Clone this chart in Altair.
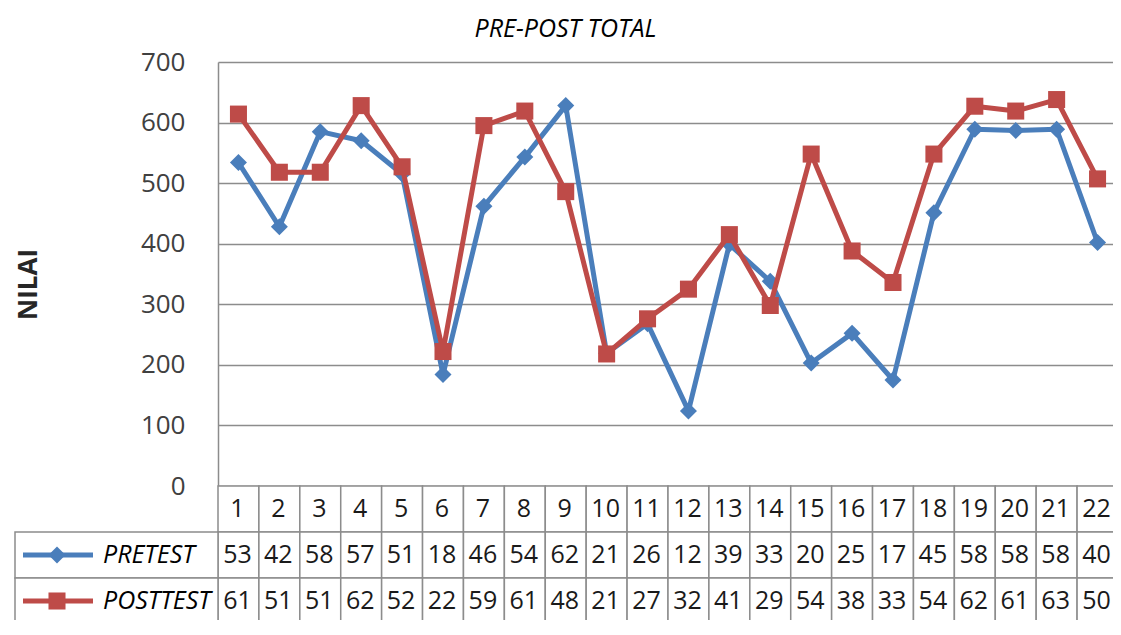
import altair as alt
import pandas as pd

# ---------------- data ----------------
categories = list(range(1, 23))
pretest = [534, 428, 585, 570, 515, 184, 462, 543, 628, 219, 268, 124, 399, 338,
           203, 252, 175, 451, 589, 587, 589, 402]
posttest = [614, 518, 518, 628, 527, 222, 595, 619, 486, 218, 276, 325, 415, 298,
            548, 388, 336, 548, 627, 619, 638, 507]
series_names = ["PRETEST", "POSTTEST"]
series_colors = ["#4A7EBB", "#BE4B48"]
series_shapes = ["diamond", "square"]
y_ticks = [0, 100, 200, 300, 400, 500, 600, 700]
header_row = "NO"
# the data-table cells only show the first two characters of each value
pretest_labels = [str(v)[:2] for v in pretest]
posttest_labels = [str(v)[:2] for v in posttest]
header_labels = [str(c) for c in categories]

rows = [header_row] + series_names

long_df = pd.DataFrame({
    "cat": categories * 2,
    "series": [series_names[0]] * len(categories) + [series_names[1]] * len(categories),
    "value": pretest + posttest,
})
table_df = pd.DataFrame({
    "cat": categories * 3,
    "row": [header_row] * len(categories) + [series_names[0]] * len(categories)
           + [series_names[1]] * len(categories),
    "text": header_labels + pretest_labels + posttest_labels,
})
legend_df = pd.DataFrame({"row": series_names})

# ---------------- styling ----------------
FONT = "Open Sans"
GRID = "#8c8c8c"
PLOT_W = 895
PLOT_H = 558
ZERO_PX = 424
ROW_H = 46
COL_SPAN = 900

x_scale = alt.Scale(domain=[0.5, 22.5], range=[0, COL_SPAN], nice=False, zero=False)
y_line_scale = alt.Scale(domain=[0, 700], range=[ZERO_PX, 0], nice=False, zero=False)
y_row_scale = alt.Scale(type="band", domain=rows, range=[ZERO_PX, ZERO_PX + 3 * ROW_H],
                        paddingInner=0, paddingOuter=0)
color_scale = alt.Scale(domain=series_names, range=series_colors)
shape_scale = alt.Scale(domain=series_names, range=series_shapes)

y_axis = alt.Axis(
    values=y_ticks, title="NILAI", grid=True, gridColor=GRID, gridWidth=1.5,
    domainColor=GRID, domainWidth=1.5, ticks=False, tickSize=0,
    labelFont=FONT, labelFontSize=26, labelColor="#404040", labelPadding=33,
    titleFont=FONT, titleFontSize=26, titleFontWeight="bold", titleColor="#262626",
    titleX=-190, titleY=222, titleAlign="center", titleBaseline="middle", titleAngle=270,
)

X = alt.X("cat:Q", scale=x_scale, axis=None)
Yrow = alt.Y("row:N", scale=y_row_scale, axis=None)

# ---------------- line layers ----------------
line_layers = []
for s in series_names:
    b = alt.Chart(long_df).transform_filter(alt.datum.series == s)
    enc = dict(
        x=X,
        y=alt.Y("value:Q", scale=y_line_scale, axis=y_axis),
        color=alt.Color("series:N", scale=color_scale, legend=None),
    )
    line_layers.append(b.mark_line(strokeWidth=5, strokeJoin="round").encode(**enc))
    line_layers.append(
        b.mark_point(filled=True, size=290, opacity=1).encode(
            shape=alt.Shape("series:N", scale=shape_scale, legend=None), **enc)
    )
lines = alt.layer(*line_layers)

# ---------------- data table ----------------
cells = alt.Chart(table_df).transform_calculate(
    x0="datum.cat - 0.5", x1="datum.cat + 0.5"
).mark_rect(fill="white", stroke=GRID, strokeWidth=1.5).encode(
    x=alt.X("x0:Q", scale=x_scale, axis=None), x2="x1:Q", y=Yrow
)
legend_cells = alt.Chart(legend_df).mark_rect(fill="white", stroke=GRID, strokeWidth=1.5).encode(
    x=alt.value(-203), x2=alt.value(0), y=Yrow
)
numbers = alt.Chart(table_df).mark_text(font=FONT, fontSize=25, color="#1a1a1a", dx=-1).encode(
    x=X, y=Yrow, text="text:N"
)
legend_lines = alt.Chart(legend_df).mark_rule(strokeWidth=5).encode(
    x=alt.value(-195), x2=alt.value(-125), y=Yrow,
    color=alt.Color("row:N", scale=color_scale, legend=None),
)
legend_pts = alt.Chart(legend_df).mark_point(filled=True, size=290, opacity=1).encode(
    x=alt.value(-161), y=Yrow,
    color=alt.Color("row:N", scale=color_scale, legend=None),
    shape=alt.Shape("row:N", scale=shape_scale, legend=None),
)
legend_text = alt.Chart(legend_df).mark_text(
    align="left", font=FONT, fontSize=25, fontStyle="italic", color="black"
).encode(x=alt.value(-115), y=Yrow, text="row:N")

table = alt.layer(cells, legend_cells, numbers, legend_lines, legend_pts, legend_text)

chart = alt.layer(lines, table).resolve_scale(y="independent").properties(
    width=PLOT_W,
    height=PLOT_H,
    title=alt.TitleParams(
        "PRE-POST TOTAL", font=FONT, fontSize=25, fontStyle="italic", fontWeight="normal",
        color="black", anchor="middle", dx=-100, offset=7,
    ),
    autosize=alt.AutoSizeParams(type="none"),
    padding={"left": 210, "top": 54, "right": 0, "bottom": 0},
    background="white",
).configure_view(strokeWidth=0)

chart.save("out.html", embed_options={"renderer": "svg", "actions": False})
